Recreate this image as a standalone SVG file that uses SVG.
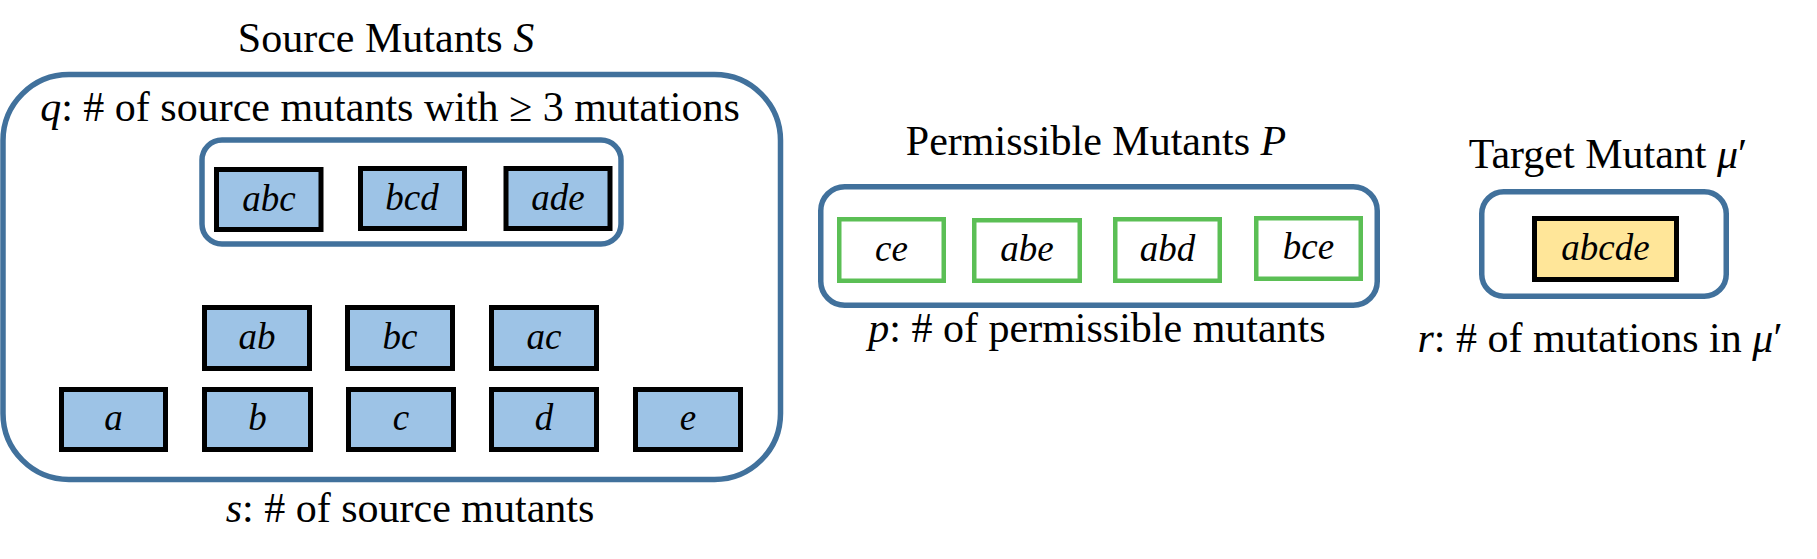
<svg xmlns="http://www.w3.org/2000/svg" width="1817" height="559" viewBox="0 0 1817 559">
<style>
.grp{fill:#ffffff;stroke:#41719C;stroke-width:5.5}
.src{fill:#9DC3E6;stroke:#000000;stroke-width:5}
.perm{fill:#ffffff;stroke:#5BBF55;stroke-width:4.5}
.tgt{fill:#FFE699;stroke:#000000;stroke-width:5}
.t{font-size:42px;fill:#000;text-anchor:middle}
.l{font-size:37px;font-style:italic;fill:#000;text-anchor:middle}
.i{font-style:italic}
</style>
<rect width="1817" height="559" fill="#ffffff"/>
<g font-family="'Liberation Serif', 'Times New Roman', 'DejaVu Serif', serif">
<g id="source-mutants">
  <text class="t" x="386" y="52">Source Mutants <tspan class="i">S</tspan></text>
  <rect class="grp" x="3" y="74.5" width="777.5" height="405" rx="66" ry="66"/>
  <text class="t" x="390" y="121"><tspan class="i">q</tspan>: # of source mutants with ≥ 3 mutations</text>
  <text class="t" x="410" y="522"><tspan class="i">s</tspan>: # of source mutants</text>
</g>
<g id="q-group">
  <rect class="grp" x="202" y="140" width="419" height="104" rx="20" ry="20"/>
</g>
<g id="node-abc"><rect class="src" x="216.5" y="169.5" width="104.5" height="60"/><text class="l" x="269" y="211">abc</text></g>
<g id="node-bcd"><rect class="src" x="360.5" y="168.5" width="104" height="60"/><text class="l" x="412" y="210">bcd</text></g>
<g id="node-ade"><rect class="src" x="506" y="168.5" width="104" height="60"/><text class="l" x="558" y="210">ade</text></g>
<g id="node-ab"><rect class="src" x="204.5" y="307.5" width="105" height="61"/><text class="l" x="257" y="349">ab</text></g>
<g id="node-bc"><rect class="src" x="347.5" y="307.5" width="105" height="61"/><text class="l" x="400" y="349">bc</text></g>
<g id="node-ac"><rect class="src" x="491.5" y="307.5" width="105" height="61"/><text class="l" x="544" y="349">ac</text></g>
<g id="node-a"><rect class="src" x="61.5" y="389.5" width="104" height="60"/><text class="l" x="113.5" y="430">a</text></g>
<g id="node-b"><rect class="src" x="204.5" y="389.5" width="106" height="60"/><text class="l" x="257.5" y="430">b</text></g>
<g id="node-c"><rect class="src" x="348.5" y="389.5" width="105" height="60"/><text class="l" x="401" y="430">c</text></g>
<g id="node-d"><rect class="src" x="491.5" y="389.5" width="105" height="60"/><text class="l" x="544" y="430">d</text></g>
<g id="node-e"><rect class="src" x="635.5" y="389.5" width="105" height="60"/><text class="l" x="688" y="430">e</text></g>
<g id="permissible-mutants">
  <text class="t" x="1096" y="155">Permissible Mutants <tspan class="i">P</tspan></text>
  <rect class="grp" x="820.75" y="186.75" width="556.5" height="118.5" rx="24" ry="24"/>
  <text class="t" x="1097" y="342"><tspan class="i">p</tspan>: # of permissible mutants</text>
</g>
<g id="node-ce"><rect class="perm" x="839.25" y="219.25" width="104.5" height="61.5"/><text class="l" x="891.5" y="261">ce</text></g>
<g id="node-abe"><rect class="perm" x="974.25" y="220.25" width="105.5" height="60.5"/><text class="l" x="1027" y="261">abe</text></g>
<g id="node-abd"><rect class="perm" x="1115.25" y="219.25" width="104.5" height="61.5"/><text class="l" x="1167.5" y="261">abd</text></g>
<g id="node-bce"><rect class="perm" x="1256.25" y="218.25" width="104.5" height="60.5"/><text class="l" x="1308.5" y="259">bce</text></g>
<g id="target-mutant">
  <text class="t" x="1608" y="168">Target Mutant <tspan class="i">μ</tspan>′</text>
  <rect class="grp" x="1481.75" y="191.75" width="244.5" height="104.5" rx="22" ry="22"/>
  <text class="t" x="1600" y="352"><tspan class="i">r</tspan>: # of mutations in <tspan class="i">μ</tspan>′</text>
</g>
<g id="node-abcde"><rect class="tgt" x="1534.5" y="218.5" width="142" height="61"/><text class="l" x="1605.5" y="260">abcde</text></g>
</g>
<g id="connectors"></g>
</svg>
